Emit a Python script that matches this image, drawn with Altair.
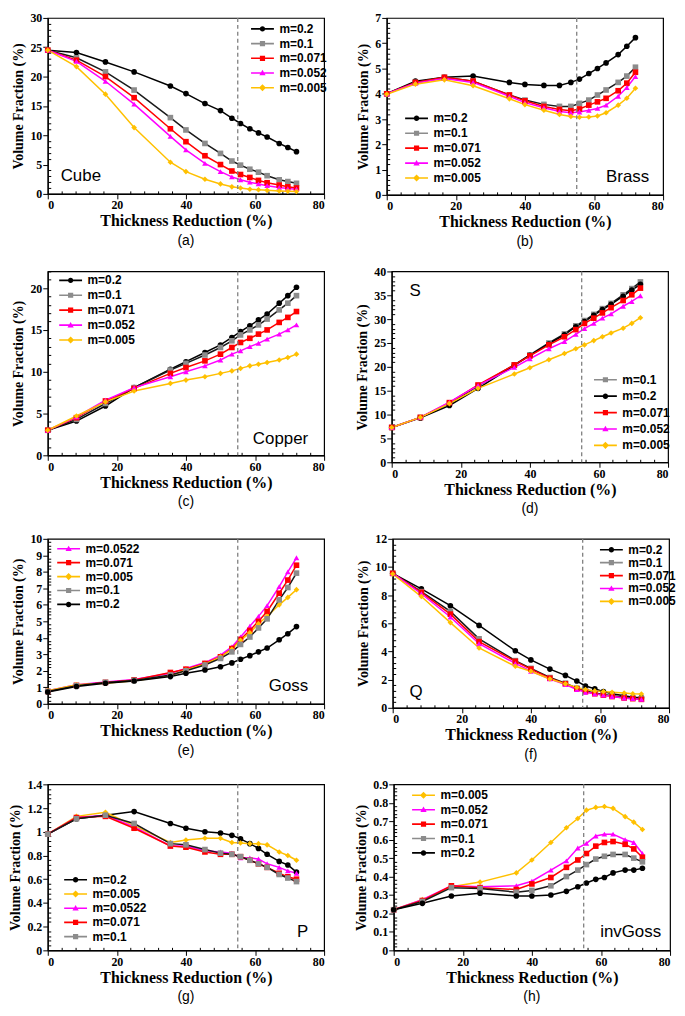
import altair as alt
import numpy as np
import pandas as pd

# ---------------- data ----------------
reduction = [0, 8.3, 16.7, 25, 35.5, 40, 45.5, 50, 53.3, 55.8, 58.5, 61, 63.5, 67, 69.5, 72]
onset = 55  # dashed vertical line

cube = {
    "m=0.2":   [24.5, 24.1, 22.5, 20.8, 18.4, 17.1, 15.4, 14.2, 12.9, 12.0, 11.1, 10.4, 9.7, 8.6, 7.9, 7.2],
    "m=0.1":   [24.5, 23.2, 20.8, 17.7, 13.0, 10.9, 8.6, 6.9, 5.6, 4.9, 4.2, 3.7, 3.1, 2.4, 2.1, 1.8],
    "m=0.071": [24.5, 22.8, 20.0, 16.4, 11.1, 8.9, 6.5, 5.0, 3.9, 3.3, 2.8, 2.3, 1.9, 1.5, 1.2, 1.0],
    "m=0.052": [24.5, 22.6, 19.2, 15.3, 9.8, 7.5, 5.2, 3.8, 2.9, 2.4, 2.0, 1.7, 1.4, 1.1, 0.9, 0.8],
    "m=0.005": [24.5, 21.7, 17.0, 11.3, 5.4, 3.8, 2.5, 1.7, 1.2, 1.0, 0.8, 0.7, 0.6, 0.5, 0.45, 0.4],
}
brass = {
    "m=0.2":   [4.0, 4.5, 4.65, 4.7, 4.45, 4.37, 4.33, 4.33, 4.45, 4.58, 4.8, 5.0, 5.22, 5.55, 5.88, 6.22],
    "m=0.1":   [4.0, 4.45, 4.65, 4.5, 3.95, 3.75, 3.58, 3.5, 3.5, 3.62, 3.75, 3.95, 4.15, 4.45, 4.7, 5.05],
    "m=0.071": [4.0, 4.45, 4.65, 4.5, 3.95, 3.72, 3.5, 3.38, 3.33, 3.4, 3.55, 3.68, 3.82, 4.12, 4.42, 4.85],
    "m=0.052": [4.0, 4.42, 4.6, 4.45, 3.9, 3.65, 3.45, 3.3, 3.25, 3.28, 3.35, 3.42, 3.55, 3.9, 4.25, 4.68],
    "m=0.005": [3.98, 4.38, 4.55, 4.32, 3.8, 3.57, 3.35, 3.18, 3.1, 3.07, 3.08, 3.12, 3.25, 3.55, 3.82, 4.22],
}
copper = {
    "m=0.2":   [3.0, 4.1, 5.9, 8.1, 10.3, 11.2, 12.3, 13.2, 14.1, 14.8, 15.5, 16.2, 16.9, 18.2, 19.1, 20.1],
    "m=0.1":   [3.0, 4.3, 6.2, 8.1, 10.2, 11.0, 12.0, 12.9, 13.7, 14.4, 15.0, 15.6, 16.3, 17.4, 18.2, 19.1],
    "m=0.071": [3.0, 4.5, 6.5, 8.0, 9.8, 10.5, 11.3, 12.1, 12.9, 13.5, 14.0, 14.5, 15.0, 15.9, 16.5, 17.2],
    "m=0.052": [3.0, 4.6, 6.6, 8.1, 9.4, 10.0, 10.7, 11.4, 12.1, 12.5, 13.0, 13.4, 13.9, 14.5, 15.0, 15.6],
    "m=0.005": [3.0, 4.7, 6.4, 7.7, 8.6, 9.0, 9.4, 9.8, 10.1, 10.4, 10.7, 10.9, 11.1, 11.4, 11.7, 12.1],
}
s_comp = {
    "m=0.1":   [7.3, 9.4, 12.3, 16.0, 20.4, 22.5, 25.0, 26.9, 28.6, 29.7, 31.0, 32.2, 33.3, 35.1, 36.4, 37.8],
    "m=0.2":   [7.3, 9.3, 11.9, 15.5, 20.3, 22.4, 24.8, 26.7, 28.4, 29.5, 30.8, 32.0, 33.1, 34.8, 36.1, 37.3],
    "m=0.071": [7.3, 9.4, 12.5, 16.2, 20.4, 22.3, 24.6, 26.3, 27.8, 29.1, 30.2, 31.3, 32.4, 33.9, 35.1, 36.5],
    "m=0.052": [7.3, 9.4, 12.6, 16.1, 19.9, 21.7, 23.8, 25.3, 26.8, 28.0, 29.1, 30.2, 31.1, 32.7, 33.7, 34.9],
    "m=0.005": [7.3, 9.4, 12.3, 15.5, 18.5, 19.8, 21.5, 22.8, 23.8, 24.6, 25.5, 26.3, 27.1, 28.1, 29.1, 30.3],
}
goss = {
    "m=0.0522": [0.8, 1.15, 1.32, 1.48, 1.85, 2.15, 2.5, 2.95, 3.45, 4.05, 4.7, 5.3, 5.95, 7.1, 8.0, 8.85],
    "m=0.071":  [0.75, 1.12, 1.3, 1.45, 1.9, 2.1, 2.45, 2.85, 3.35, 3.9, 4.45, 5.0, 5.6, 6.7, 7.5, 8.4],
    "m=0.005":  [0.8, 1.15, 1.25, 1.4, 1.7, 2.05, 2.4, 2.85, 3.3, 3.85, 4.3, 4.85, 5.3, 6.0, 6.45, 6.92],
    "m=0.1":    [0.75, 1.1, 1.3, 1.42, 1.75, 2.0, 2.35, 2.75, 3.15, 3.6, 4.05, 4.6, 5.15, 6.3, 7.05, 7.92],
    "m=0.2":    [0.72, 1.05, 1.25, 1.38, 1.65, 1.85, 2.05, 2.25, 2.48, 2.7, 2.92, 3.15, 3.38, 3.88, 4.25, 4.68],
}
q_comp = {
    "m=0.2":   [9.55, 8.45, 7.25, 5.85, 4.05, 3.4, 2.75, 2.3, 1.9, 1.55, 1.35, 1.15, 1.0, 0.85, 0.75, 0.72],
    "m=0.1":   [9.55, 8.25, 6.85, 4.9, 3.35, 2.8, 2.15, 1.75, 1.4, 1.2, 1.05, 0.95, 0.85, 0.75, 0.7, 0.65],
    "m=0.071": [9.55, 8.2, 6.65, 4.7, 3.3, 2.75, 2.1, 1.7, 1.35, 1.15, 1.0, 0.9, 0.8, 0.7, 0.65, 0.6],
    "m=0.052": [9.55, 8.1, 6.45, 4.55, 3.15, 2.6, 2.05, 1.65, 1.3, 1.1, 1.0, 0.9, 0.8, 0.7, 0.65, 0.6],
    "m=0.005": [9.5, 7.9, 6.05, 4.25, 2.95, 2.6, 2.05, 1.7, 1.45, 1.3, 1.2, 1.15, 1.1, 1.05, 1.0, 0.98],
}
p_comp = {
    "m=0.2":    [0.98, 1.11, 1.14, 1.17, 1.07, 1.03, 1.0, 0.99, 0.97, 0.94, 0.9, 0.86, 0.81, 0.75, 0.72, 0.66],
    "m=0.005":  [0.98, 1.13, 1.165, 1.05, 0.91, 0.93, 0.945, 0.945, 0.91, 0.905, 0.9, 0.9, 0.89, 0.83, 0.8, 0.76],
    "m=0.0522": [0.98, 1.12, 1.14, 1.04, 0.88, 0.88, 0.84, 0.83, 0.82, 0.78, 0.78, 0.77, 0.73, 0.7, 0.67, 0.65],
    "m=0.071":  [0.98, 1.12, 1.13, 1.03, 0.88, 0.87, 0.83, 0.81, 0.81, 0.79, 0.76, 0.73, 0.7, 0.65, 0.62, 0.6],
    "m=0.1":    [0.98, 1.11, 1.14, 1.07, 0.9, 0.89, 0.85, 0.82, 0.81, 0.79, 0.76, 0.73, 0.7, 0.64, 0.61, 0.58],
}
invgoss = {
    "m=0.005": [0.22, 0.275, 0.345, 0.37, 0.42, 0.49, 0.585, 0.665, 0.715, 0.76, 0.775, 0.78, 0.77, 0.725, 0.695, 0.655],
    "m=0.052": [0.22, 0.275, 0.35, 0.345, 0.35, 0.375, 0.435, 0.485, 0.555, 0.58, 0.62, 0.63, 0.63, 0.6, 0.585, 0.525],
    "m=0.071": [0.22, 0.27, 0.35, 0.34, 0.33, 0.36, 0.395, 0.45, 0.49, 0.525, 0.565, 0.585, 0.59, 0.575, 0.55, 0.505],
    "m=0.1":   [0.22, 0.265, 0.34, 0.335, 0.315, 0.325, 0.35, 0.4, 0.435, 0.465, 0.495, 0.51, 0.52, 0.52, 0.5, 0.48],
    "m=0.2":   [0.22, 0.255, 0.295, 0.31, 0.295, 0.295, 0.3, 0.32, 0.345, 0.365, 0.385, 0.395, 0.42, 0.435, 0.435, 0.445],
}

# ---------------- styles ----------------
point_color = {"0.2": "#000000", "0.1": "#8c8c8c", "0.071": "#ff0000",
               "0.052": "#ff00ff", "0.0522": "#ff00ff", "0.005": "#ffc000"}
line_color = {"0.2": "#000000", "0.1": "#1a1a1a", "0.071": "#ff0000",
              "0.052": "#ff00ff", "0.0522": "#ff00ff", "0.005": "#ffc000"}
point_shape = {"0.2": "circle", "0.1": "square", "0.071": "square",
               "0.052": "triangle-up", "0.0522": "triangle-up", "0.005": "diamond"}
BAR = "M-4.2,-0.3H4.2V0.3H-4.2Z "
legend_shape = {
    "0.2": BAR + "M-1,0A1,1 0 1,1 1,0A1,1 0 1,1 -1,0Z",
    "0.1": BAR + "M-0.95,-0.95H0.95V0.95H-0.95Z",
    "0.071": BAR + "M-0.95,-0.95H0.95V0.95H-0.95Z",
    "0.052": BAR + "M0,-1.15L1.15,0.85H-1.15Z",
    "0.0522": BAR + "M0,-1.15L1.15,0.85H-1.15Z",
    "0.005": BAR + "M0,-1.3L1.3,0L0,1.3L-1.3,0Z",
}

SERIF = "Liberation Serif"
SANS = "Liberation Sans"


def key(label):
    return label.split("=")[1]


def make_axis(title, values, step):
    test = f"abs(datum.value/{step} - round(datum.value/{step})) < 0.000001"
    return alt.Axis(values=values, tickCount=len(values) + 2, title=title, labelOverlap=False,
                    labelExpr=f"{test} ? format(datum.value, '.4~f') : ''",
                    tickSize={"condition": {"test": test, "value": 5}, "value": -3})


def panel(series, ymax, ystep, yminor, w, h, leg_x, leg_y, row_pad,
          tag, tag_x, tag_y, tag_align, caption):
    order = list(series.keys())
    rows = [{"x": xv, "v": vv, "s": name}
            for name in order for xv, vv in zip(reduction, series[name])]
    df = pd.DataFrame(rows)

    xs = alt.Scale(domain=[0, 80], nice=False)
    ys = alt.Scale(domain=[0, ymax], nice=False)
    xmin = [round(float(v), 6) for v in np.arange(0, 80 + 1e-9, 4)]
    ymin = [round(float(v), 6) for v in np.arange(0, ymax + 1e-9, yminor)]
    xaxis = make_axis("Thickness Reduction (%)", xmin, 20)
    yaxis = make_axis("Volume Fraction (%)", ymin, ystep)

    X = alt.X("x:Q", scale=xs, axis=xaxis)
    Y = alt.Y("v:Q", scale=ys, axis=yaxis)
    base = alt.Chart(df)

    lines = base.mark_line(strokeWidth=1.5).encode(
        x=X, y=Y,
        color=alt.Color("s:N", scale=alt.Scale(domain=order, range=[line_color[key(o)] for o in order]),
                        legend=None))
    points = base.mark_point(filled=True, opacity=1, size=32).encode(
        x=alt.X("x:Q", scale=xs), y=alt.Y("v:Q", scale=ys),
        color=alt.Color("s:N", scale=alt.Scale(domain=order, range=[point_color[key(o)] for o in order]),
                        legend=None),
        shape=alt.Shape("s:N", scale=alt.Scale(domain=order, range=[point_shape[key(o)] for o in order]),
                        legend=None))
    leg = alt.Legend(orient="none", legendX=leg_x, legendY=leg_y, title=None,
                     symbolSize=30, symbolStrokeWidth=0, padding=0,
                     labelFont=SANS, labelFontWeight="bold", labelFontSize=12,
                     labelColor="black", labelOffset=11, rowPadding=row_pad)
    legend_layer = base.transform_filter("false").mark_point(filled=True, opacity=1).encode(
        x=alt.X("x:Q", scale=xs), y=alt.Y("v:Q", scale=ys),
        color=alt.Color("s:N", scale=alt.Scale(domain=order, range=[point_color[key(o)] for o in order]),
                        legend=leg),
        shape=alt.Shape("s:N", scale=alt.Scale(domain=order, range=[legend_shape[key(o)] for o in order]),
                        legend=leg))
    rule = alt.Chart(pd.DataFrame({"x": [onset]})).mark_rule(
        color="#808080", strokeDash=[4, 3], strokeWidth=1.3).encode(x=alt.X("x:Q", scale=xs))
    text = alt.Chart(pd.DataFrame({"t": [tag]})).mark_text(
        font=SANS, fontSize=17, align=tag_align, baseline="middle", color="black").encode(
        x=alt.value(tag_x), y=alt.value(tag_y), text="t:N")

    return alt.layer(lines, points, legend_layer, rule, text).resolve_scale(
        color="independent", shape="independent").properties(
        width=w, height=h,
        title=alt.TitleParams(caption, orient="bottom", font=SANS, fontSize=14,
                              fontWeight="normal", color="black", offset=5))


WL, WR = 278, 278

pa = panel(cube, 30, 5, 1, WL, 177, WL - 68, 5, 2.8, "Cube", 13, 159, "left", "(a)")
pb = panel(brass, 7, 1, 0.2, WR, 178, 24, 178 - 83, 3, "Brass", WR - 14, 178 - 18, "right", "(b)")
pc = panel(copper, 22, 5, 1, WL, 185, 17, 3, 3, "Copper", WL - 16, 185 - 16, "right", "(c)")
pd_ = panel(s_comp, 40, 5, 1, WR, 192, WR - 69, 192 - 89, 4.5, "S", 18, 20, "left", "(d)")
pe = panel(goss, 10, 1, 0.2, WL, 166, 15, 4, 2, "Goss", WL - 16, 166 - 18, "right", "(e)")
pf = panel(q_comp, 12, 2, 0.4, WR, 170, WR - 64, 5, 1, "Q", 17, 170 - 16, "left", "(f)")
pg = panel(p_comp, 1.4, 0.2, 0.04, WL, 167, 22, 167 - 77, 2.3, "P", WL - 16, 167 - 18, "right", "(g)")
ph = panel(invgoss, 0.9, 0.1, 0.02, WR, 167, 24, 5, 2.5, "invGoss", WR - 9, 167 - 18, "right", "(h)")

chart = alt.vconcat(
    alt.hconcat(pa, pb, spacing=28),
    alt.hconcat(pc, pd_, spacing=29),
    alt.hconcat(pe, pf, spacing=30),
    alt.hconcat(pg, ph, spacing=28),
    spacing=15,
).properties(padding=0).configure_axis(
    grid=False, domainColor="black", domainWidth=1.2, tickColor="black", tickWidth=1,
    labelColor="black", titleColor="black", labelFont=SERIF, labelFontWeight="bold",
    labelFontSize=12, titleFont=SERIF, titleFontWeight="bold",
    labelPadding=1,
).configure_axisX(titleFontSize=16, titlePadding=2).configure_axisY(
    titleFontSize=14, titlePadding=4
).configure_view(stroke="black", strokeWidth=1.2)

chart.save("out.html", embed_options={"renderer": "svg", "actions": False})
